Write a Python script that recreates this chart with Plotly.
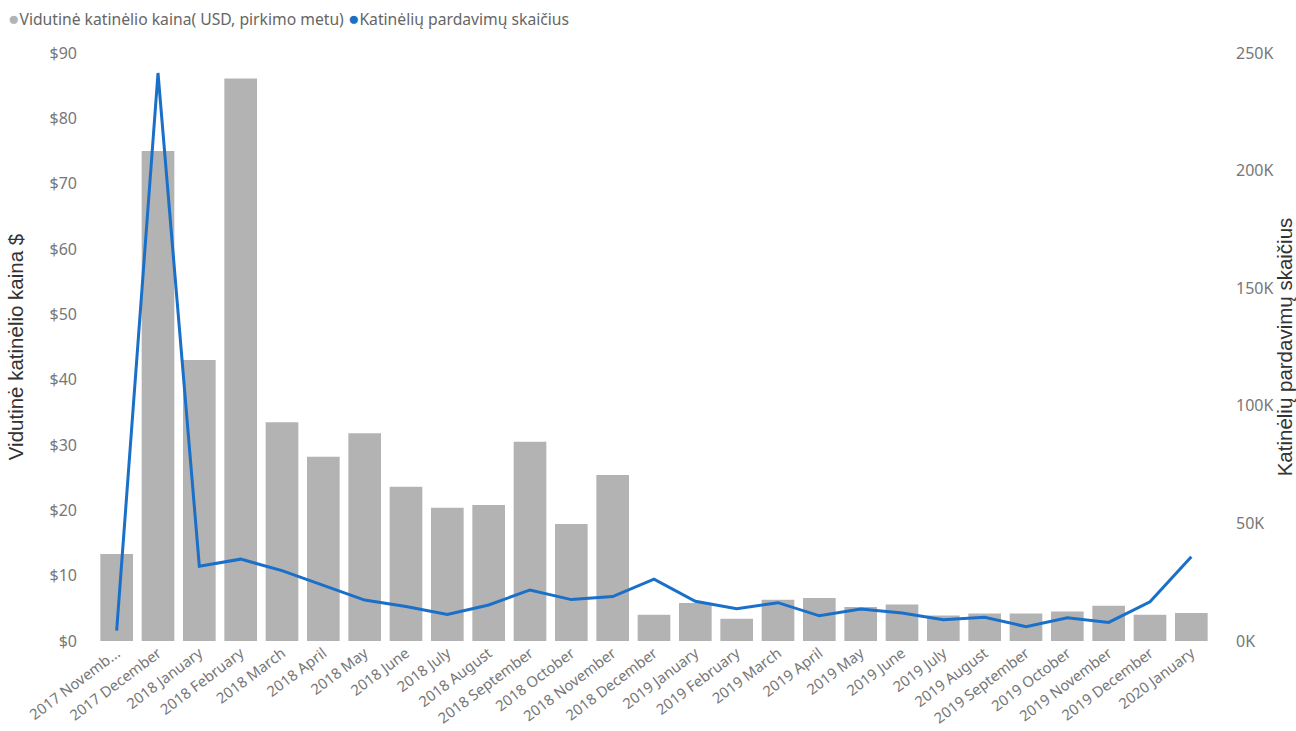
import plotly.graph_objects as go

# Monthly categories (tick labels as displayed)
months = [
    "2017 Novemb...", "2017 December",
    "2018 January", "2018 February", "2018 March", "2018 April", "2018 May",
    "2018 June", "2018 July", "2018 August", "2018 September", "2018 October",
    "2018 November", "2018 December",
    "2019 January", "2019 February", "2019 March", "2019 April", "2019 May",
    "2019 June", "2019 July", "2019 August", "2019 September", "2019 October",
    "2019 November", "2019 December",
    "2020 January",
]

# Average kitten price (USD, at time of purchase)
avg_price = [
    13.3, 75.0,
    43.0, 86.1, 33.5, 28.2, 31.8, 23.6, 20.4, 20.8, 30.5, 17.9, 25.4, 4.0,
    5.8, 3.4, 6.3, 6.6, 5.2, 5.6, 3.9, 4.2, 4.2, 4.5, 5.4, 4.0,
    4.3,
]

# Number of kitten sales
sales = [
    4400, 241500,
    31800, 34800, 29900, 23500, 17400, 14700, 11300, 15300, 21700, 17600,
    18900, 26300,
    16900, 13700, 16300, 10700, 13600, 11900, 9000, 10100, 6100, 9900, 7900,
    16700,
    35800,
]

price_ticks = [0, 10, 20, 30, 40, 50, 60, 70, 80, 90]
sales_ticks = [0, 50000, 100000, 150000, 200000, 250000]

BAR_COLOR = "#B3B3B3"
LINE_COLOR = "#1A6FC8"
TICK_FONT = dict(family="Noto Sans, Open Sans, sans-serif", size=16, color="#777777")
XTICK_FONT = dict(family="Noto Sans, Open Sans, sans-serif", size=14.8, color="#777777")
TITLE_FONT = dict(family="Liberation Sans, Arial, sans-serif", size=20.5, color="#333333")

fig = go.Figure()

fig.add_trace(go.Bar(
    x=months,
    y=avg_price,
    name="Vidutinė katinėlio kaina( USD, pirkimo metu)",
    marker=dict(color=BAR_COLOR, line=dict(width=0)),
    showlegend=False,
    yaxis="y",
))

fig.add_trace(go.Scatter(
    x=months,
    y=sales,
    name="Katinėlių pardavimų skaičius",
    mode="lines",
    line=dict(color=LINE_COLOR, width=3),
    showlegend=False,
    yaxis="y2",
))

fig.update_layout(
    width=1296,
    height=731,
    margin=dict(l=96, r=84, t=53, b=90),
    paper_bgcolor="white",
    plot_bgcolor="white",
    bargap=0.21,
    xaxis=dict(
        type="category",
        tickangle=-37,
        tickfont=XTICK_FONT,
        showgrid=False,
        showline=False,
        zeroline=False,
        ticks="",
        automargin=False,
    ),
    yaxis=dict(
        range=[0, 90],
        tickvals=price_ticks,
        ticktext=[f"${v}" for v in price_ticks],
        tickfont=TICK_FONT,
        showgrid=False,
        zeroline=False,
        showline=False,
        ticks="",
        ticklabelstandoff=18,
        automargin=False,
        title=dict(text="Vidutinė katinėlio kaina $", font=TITLE_FONT, standoff=20),
    ),
    yaxis2=dict(
        range=[0, 250000],
        overlaying="y",
        side="right",
        tickvals=sales_ticks,
        ticktext=[f"{v // 1000}K" for v in sales_ticks],
        tickfont=TICK_FONT,
        showgrid=False,
        zeroline=False,
        showline=False,
        ticks="",
        ticklabelstandoff=23,
        automargin=False,
        title=dict(text="Katinėlių pardavimų skaičius", font=TITLE_FONT, standoff=9),
    ),
    annotations=[
        dict(
            xref="paper", yref="paper",
            x=0, y=1, xanchor="left", yanchor="bottom",
            xshift=-90, yshift=20,
            showarrow=False,
            align="left",
            font=dict(family="Noto Sans, Open Sans, sans-serif", size=15.7, color="#666666"),
            text=(
                f"<span style='color:{BAR_COLOR};font-size:19px'>●</span>"
                "Vidutinė katinėlio kaina( USD, pirkimo metu) "
                f"<span style='color:{LINE_COLOR};font-size:19px'>●</span>"
                "Katinėlių pardavimų skaičius"
            ),
        )
    ],
)

fig.write_html("out.html")
